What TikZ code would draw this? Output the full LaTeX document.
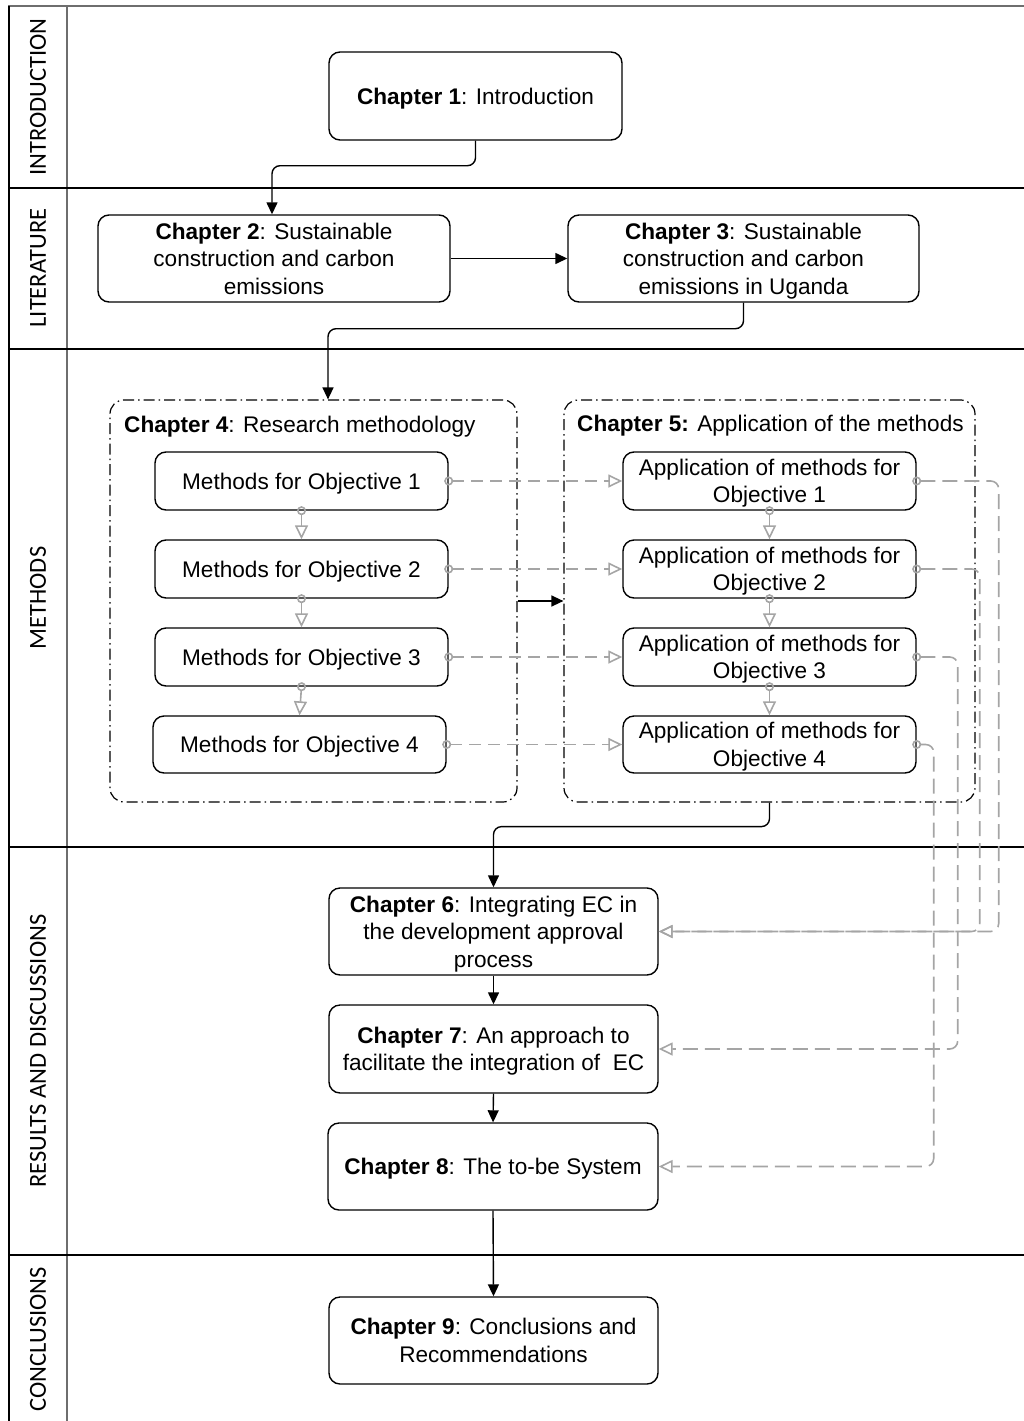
\documentclass[tikz,border=0pt]{standalone}
\usepackage{fontspec}
\setmainfont{Liberation Sans}
\newfontfamily\bandfont{Carlito}
\usetikzlibrary{arrows.meta,calc}

\definecolor{linkgrey}{RGB}{165,165,165}
\definecolor{rulegrey}{RGB}{110,110,110}

\newcommand\boxfont{\fontsize{22.6}{27.5}\selectfont}
\newcommand\bandsize{\bandfont\fontsize{24.5}{28}\selectfont}

\begin{document}
\begin{tikzpicture}[x=1pt,y=-1pt,
  chapbox/.style={draw, line width=1.4pt, rounded corners=11pt, align=center,
    inner sep=0pt, font=\boxfont, text height=22.2pt, text depth=6pt},
  twolines/.style={text height=49.7pt},
  threelines/.style={text height=77.2pt},
  subbox/.style={chapbox, minimum width=293pt, minimum height=58pt},
  container/.style={draw, line width=1.2pt, rounded corners=14pt,
    dash pattern=on 11pt off 4pt on 1.5pt off 4pt, inner sep=0pt},
  boxtitle/.style={anchor=west, inner sep=0pt, font=\boxfont,
    text height=22.2pt, text depth=6pt},
  bandlabel/.style={rotate=90, inner sep=0pt, font=\bandsize},
  frameline/.style={line width=1.5pt},
  flow/.style={draw, line width=1.4pt, rounded corners=8pt,
    -{Triangle[length=12pt,width=11pt]}},
  objlink/.style={draw=linkgrey, line width=1.6pt, shorten <=-4.5pt,
    {Circle[open,length=9pt,width=9pt]}-{Triangle[open,length=14pt,width=13pt]}},
  dashlink/.style={objlink, dash pattern=on 12pt off 7pt},
  routelink/.style={objlink, rounded corners=8pt, dash pattern=on 15pt off 7pt},
]
\useasboundingbox (0,0) rectangle (1024,1421);

% swimlane frame
\draw[frameline, draw=rulegrey] (8,6) -- (1024,6);
\draw[frameline] (9,6) -- (9,1421);
\draw[frameline, draw=rulegrey] (67,6) -- (67,1421);
\draw[line width=2.6pt] (9,188) -- (1024,188);
\draw[frameline] (9,349) -- (1024,349);
\draw[frameline] (9,847) -- (1024,847);
\draw[frameline] (9,1255) -- (1024,1255);

% lane titles
\node[bandlabel] (lintro) at (38,97) {INTRODUCTION};
\node[bandlabel] (llit) at (38,268) {LITERATURE};
\node[bandlabel] (lmeth) at (38,598) {METHODS};
\node[bandlabel] (lres) at (38,1051) {RESULTS AND DISCUSSIONS};
\node[bandlabel] (lconc) at (38,1339) {CONCLUSIONS};

% chapters
\node[chapbox, minimum width=293pt, minimum height=88pt] (ch1) at (475.5,96)
  {\textbf{Chapter 1}: Introduction};
\node[chapbox, threelines, minimum width=352pt, minimum height=87pt] (ch2) at (274,258.5)
  {\textbf{Chapter 2}: Sustainable\\construction and carbon\\emissions};
\node[chapbox, threelines, minimum width=351pt, minimum height=87pt] (ch3) at (743.5,258.5)
  {\textbf{Chapter 3}: Sustainable\\construction and carbon\\emissions in Uganda};

% method containers
\node[container, minimum width=407pt, minimum height=402pt] (c4) at (313.5,601) {};
\node[container, minimum width=411pt, minimum height=402pt] (c5) at (769.5,601) {};
\node[boxtitle] (t4) at (124,424) {\textbf{Chapter 4}: Research methodology};
\node[boxtitle] (t5) at (577,423) {\textbf{Chapter 5:} Application of the methods};

\node[subbox] (m1) at (301.5,481) {Methods for Objective 1};
\node[subbox] (m2) at (301.5,569) {Methods for Objective 2};
\node[subbox] (m3) at (301.5,657) {Methods for Objective 3};
\node[subbox, minimum height=57pt] (m4) at (299.5,744.5) {Methods for Objective 4};

\node[subbox, twolines] (a1) at (769.5,481) {Application of methods for\\Objective 1};
\node[subbox, twolines] (a2) at (769.5,569) {Application of methods for\\Objective 2};
\node[subbox, twolines] (a3) at (769.5,657) {Application of methods for\\Objective 3};
\node[subbox, twolines, minimum height=57pt] (a4) at (769.5,744.5) {Application of methods for\\Objective 4};

\node[chapbox, threelines, minimum width=329pt, minimum height=87pt] (ch6) at (493.5,931.5)
  {\textbf{Chapter 6}: Integrating EC in\\the development approval\\process};
\node[chapbox, twolines, minimum width=329pt, minimum height=88pt] (ch7) at (493.5,1049)
  {\textbf{Chapter 7}: An approach to\\facilitate the integration of\ \ EC};
\node[chapbox, minimum width=330pt, minimum height=87pt] (ch8) at (493,1166.5)
  {\textbf{Chapter 8}: The to-be System};
\node[chapbox, twolines, minimum width=329pt, minimum height=87pt] (ch9) at (493.5,1340.5)
  {\textbf{Chapter 9}: Conclusions and\\Recommendations};

% main flow
\draw[flow] (ch1.south) -- ++(0,25) -| ([xshift=-2pt]ch2.north);
\draw[flow] (ch2.east) -- (ch3.west);
\draw[flow] (ch3.south) -- ++(0,26) -| ([xshift=14.5pt]c4.north);
\draw[flow] (c4.east) -- (c5.west);
\draw[flow] (c5.south) -- ++(0,24) -| (ch6.north);
\draw[flow] (ch6.south) -- (ch7.north);
\draw[flow] (ch7.south) -- (ch8.north);
\draw[flow] (ch8.south) -- (ch9.north);

% objective sequence inside each chapter
\draw[objlink] (m1.south) -- (m2.north);
\draw[objlink] (m2.south) -- (m3.north);
\draw[objlink] (m3.south) -- (m4.north);
\draw[objlink] (a1.south) -- (a2.north);
\draw[objlink] (a2.south) -- (a3.north);
\draw[objlink] (a3.south) -- (a4.north);

% methods applied per objective
\draw[dashlink] (m1.east) -- (a1.west);
\draw[dashlink] (m2.east) -- (a2.west);
\draw[dashlink] (m3.east) -- (a3.west);
\draw[dashlink] (m4.east) -- (a4.west);

% results feeding the later chapters
\draw[routelink] (a1.east) -- ++(82,0) |- (ch6.east);
\draw[routelink] (a2.east) -- ++(63,0) |- (ch6.east);
\draw[routelink] (a3.east) -- ++(41,0) |- (ch7.east);
\draw[routelink] (a4.east) -- ++(17,0) |- (ch8.east);
\end{tikzpicture}
\end{document}
